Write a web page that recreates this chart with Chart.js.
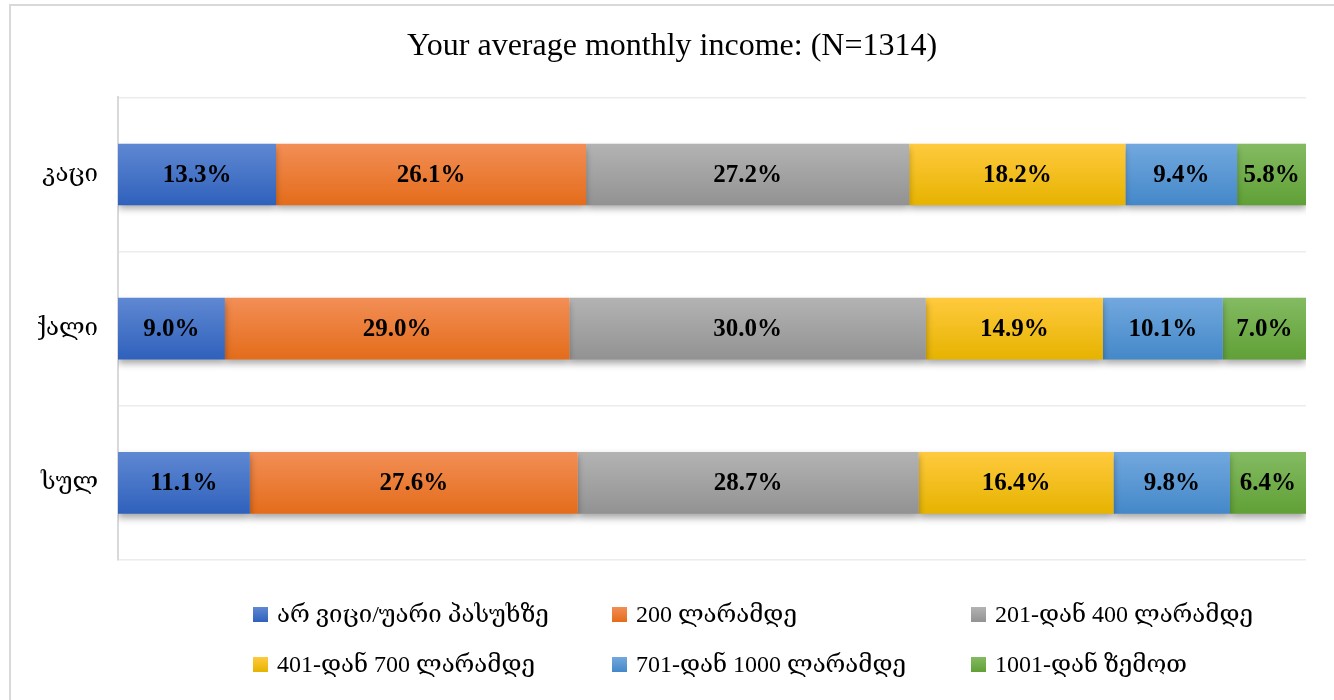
<!DOCTYPE html>
<html>
<head>
<meta charset="utf-8">
<script src="https://cdn.jsdelivr.net/npm/chart.js@4.4.1/dist/chart.umd.min.js"></script>
<style>
  html, body { margin: 0; padding: 0; background: #fff; overflow: hidden; }
  #wrap { position: relative; width: 1334px; height: 700px; }
  #frame { position: absolute; left: 9px; top: 4px; width: 1330px; height: 720px;
           border: 2px solid #d9d9d9; box-sizing: border-box; pointer-events: none; }
  #legend { position: absolute; left: 253px; top: 602px; width: 1080px;
            display: grid; grid-template-columns: 359px 359px 359px; row-gap: 26px;
            font-family: 'Liberation Serif', 'DejaVu Serif', serif; font-size: 24px; color: #000; }
  .item { display: flex; align-items: center; height: 24px; white-space: nowrap; }
  .sw { width: 15px; height: 15px; margin-right: 9px; flex: none; }
</style>
</head>
<body>
<div id="wrap">
  <canvas id="chart" width="1334" height="700"></canvas>
  <div id="frame"></div>
  <div id="legend"></div>
</div>
<script>
// ----------------------------------------------------------------------
// DATA
// ----------------------------------------------------------------------
const TITLE = 'Your average monthly income: (N=1314)';
const CATEGORIES = ['კაცი', 'ქალი', 'სულ'];

const SERIES_NAMES = [
  'არ ვიცი/უარი პასუხზე',
  '200 ლარამდე',
  '201-დან 400 ლარამდე',
  '401-დან 700 ლარამდე',
  '701-დან 1000 ლარამდე',
  '1001-დან ზემოთ'
];

const DONT_KNOW   = [13.3, 9.0, 11.1];
const UP_TO_200   = [26.1, 29.0, 27.6];
const FROM_201    = [27.2, 30.0, 28.7];
const FROM_401    = [18.2, 14.9, 16.4];
const FROM_701    = [9.4, 10.1, 9.8];
const FROM_1001   = [5.8, 7.0, 6.4];

const SERIES_VALUES = [DONT_KNOW, UP_TO_200, FROM_201, FROM_401, FROM_701, FROM_1001];

// top / bottom shade of each bar (office-like gradient)
const SHADES = [
  ['#5f88d2', '#2f61bc'],
  ['#f28e56', '#e46c1a'],
  ['#b3b3b3', '#929292'],
  ['#ffca3e', '#e6b300'],
  ['#72a8de', '#4488c9'],
  ['#84bb62', '#60a036']
];

const SERIF = "'Liberation Serif', 'DejaVu Serif', serif";
const BAR_PCT = 0.4;

// ----------------------------------------------------------------------
// helpers
// ----------------------------------------------------------------------
function barGradient(idx) {
  return (c) => {
    const chart = c.chart;
    const s = chart.scales && chart.scales.y;
    if (!s || !chart.chartArea || c.dataIndex === undefined) return SHADES[idx][1];
    const yc = s.getPixelForValue(c.dataIndex);
    const h = (s.bottom - s.top) / CATEGORIES.length * BAR_PCT;
    const g = chart.ctx.createLinearGradient(0, yc - h / 2, 0, yc + h / 2);
    g.addColorStop(0, SHADES[idx][0]);
    g.addColorStop(1, SHADES[idx][1]);
    return g;
  };
}

// shadow under the bars + value labels inside them
const barDecor = {
  id: 'barDecor',
  beforeDatasetsDraw(chart) {
    const ctx = chart.ctx;
    ctx.save();
    ctx.shadowColor = 'rgba(0,0,0,0.35)';
    ctx.shadowBlur = 7;
    ctx.shadowOffsetY = 4;
  },
  afterDatasetsDraw(chart) {
    const ctx = chart.ctx;
    ctx.restore();
    ctx.save();
    ctx.font = 'bold 25px ' + SERIF;
    ctx.fillStyle = '#000';
    ctx.textAlign = 'center';
    ctx.textBaseline = 'middle';
    chart.data.datasets.forEach((ds, di) => {
      const meta = chart.getDatasetMeta(di);
      meta.data.forEach((el, i) => {
        const v = ds.data[i];
        ctx.fillText(v.toFixed(1) + '%', (el.x + el.base) / 2, el.y + 1);
      });
    });
    ctx.restore();
  }
};

// ----------------------------------------------------------------------
// CHART
// ----------------------------------------------------------------------
const datasets = SERIES_NAMES.map((name, i) => ({
  label: name,
  data: SERIES_VALUES[i],
  backgroundColor: barGradient(i),
  borderWidth: 0,
  barPercentage: BAR_PCT,
  categoryPercentage: 1
}));

new Chart(document.getElementById('chart').getContext('2d'), {
  type: 'bar',
  data: { labels: CATEGORIES, datasets },
  plugins: [barDecor],
  options: {
    indexAxis: 'y',
    responsive: false,
    animation: false,
    layout: { padding: { left: 38, right: 28, top: 0, bottom: 140 } },
    scales: {
      x: {
        display: false,
        stacked: true,
        min: 0,
        max: 100
      },
      y: {
        stacked: true,
        afterFit: (s) => { s.width = 80; },
        border: { display: true, color: '#d9d9d9', width: 2 },
        grid: { offset: true, color: '#ececec', lineWidth: 1.5, drawTicks: false },
        ticks: { color: '#000', padding: 20, font: { family: SERIF, size: 24 } }
      }
    },
    plugins: {
      legend: { display: false },
      tooltip: { enabled: false },
      title: {
        display: true,
        text: TITLE,
        color: '#000',
        font: { family: SERIF, size: 32, weight: 'normal' },
        padding: { top: 27, bottom: 32 }
      }
    }
  }
});

// ----------------------------------------------------------------------
// LEGEND (fixed columns, as in the source)
// ----------------------------------------------------------------------
const legendEl = document.getElementById('legend');
SERIES_NAMES.forEach((name, i) => {
  const item = document.createElement('div');
  item.className = 'item';
  const sw = document.createElement('span');
  sw.className = 'sw';
  sw.style.background = `linear-gradient(${SHADES[i][0]}, ${SHADES[i][1]})`;
  const txt = document.createElement('span');
  txt.textContent = name;
  item.appendChild(sw);
  item.appendChild(txt);
  legendEl.appendChild(item);
});
</script>
</body>
</html>
